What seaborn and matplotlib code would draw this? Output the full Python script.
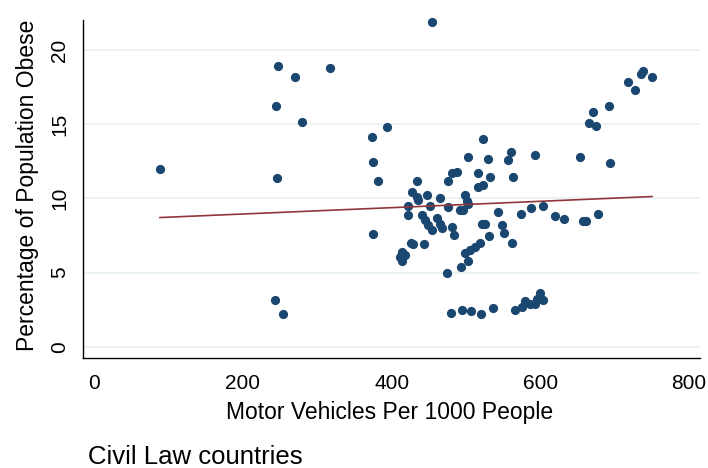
import matplotlib
matplotlib.use("Agg")
import matplotlib.pyplot as plt
import seaborn as sns
import numpy as np
import pandas as pd

# Motor vehicles per 1000 people (x) and % of population obese (y)
vehicles = [
    88, 243, 254, 244, 246, 247.5, 270, 280, 317,
    373, 374.5, 374.5, 382, 394,
    411, 413.5, 413.5, 418, 421.5, 422, 426, 427, 429, 434, 434, 436,
    440.5, 443, 445, 447, 449, 451.5, 454, 454, 460.5, 465, 465, 467.5,
    474, 476, 476, 479.5, 481, 481, 484.5, 487.5, 492, 493.5, 494, 496,
    498.5, 499, 501, 502.5, 503, 503, 505.5, 506.5, 512, 516, 516.5, 519,
    520, 521, 523, 523.5, 525, 529, 531.5, 532, 536.5, 543.5, 548, 551,
    557, 560.5, 561.5, 563.5, 566, 573.5, 575, 579, 586, 587, 593, 593,
    596, 599.5, 603, 604, 620, 632,
    654, 657, 661, 665, 670.5, 675, 677, 692.5, 693.5, 718, 727.5, 735.5,
    738.5, 750.5,
]
obese = [
    12.0, 3.15, 2.2, 16.2, 11.4, 18.9, 18.15, 15.15, 18.8,
    14.15, 12.45, 7.6, 11.2, 14.8,
    6.05, 6.4, 5.8, 6.2, 9.5, 8.85, 7.0, 10.45, 6.9, 11.2, 10.1, 9.9,
    8.85, 6.9, 8.55, 10.25, 8.2, 9.5, 7.85, 21.9, 8.65, 10.05, 8.3, 8.0,
    5.0, 11.2, 9.4, 2.25, 11.7, 8.1, 7.5, 11.8, 9.2, 5.4, 2.5, 9.2,
    10.2, 6.35, 9.8, 12.8, 9.65, 5.75, 6.5, 2.4, 6.75, 10.75, 11.7, 7.0,
    2.2, 8.25, 10.9, 14.0, 8.25, 12.65, 7.45, 11.45, 2.6, 9.05, 8.2, 7.65,
    12.6, 13.1, 7.0, 11.45, 2.45, 8.95, 2.7, 3.05, 2.9, 9.35, 2.9, 12.9,
    3.2, 3.6, 9.5, 3.15, 8.8, 8.6,
    12.8, 8.5, 8.5, 15.1, 15.8, 14.9, 8.95, 16.25, 12.35, 17.85, 17.3, 18.35,
    18.55, 18.15,
]

x_ticks = [0, 200, 400, 600, 800]
y_ticks = [0, 5, 10, 15, 20]
x_label = "Motor Vehicles Per 1000 People"
y_label = "Percentage of Population Obese"
title = "Civil Law countries"

df = pd.DataFrame({"vehicles": vehicles, "obese": obese})

sns.set_style("white")
plt.rcParams["font.family"] = ["Liberation Sans", "DejaVu Sans"]
plt.rcParams["text.color"] = "black"
plt.rcParams["axes.labelcolor"] = "black"

fig = plt.figure(figsize=(7.08, 4.68), dpi=100)
ax = fig.add_axes([83.3 / 708, 1 - 358.3 / 468, (700 - 83.3) / 708, (358.3 - 20) / 468])

sns.regplot(
    data=df, x="vehicles", y="obese", ax=ax, ci=None, truncate=True,
    scatter_kws=dict(s=44, color="#1a476f", linewidths=0, alpha=1, clip_on=False, zorder=3),
    line_kws=dict(color="#90353b", lw=1.2, zorder=4),
)

ax.set_xlim(-14.8, 814.8)
ax.set_ylim(-0.78, 22.02)
ax.set_xticks(x_ticks)
ax.set_yticks(y_ticks)
ax.set_xticklabels([str(v) for v in x_ticks], fontsize=15)
ax.set_yticklabels([str(v) for v in y_ticks], fontsize=15, rotation=90, va="center")

ax.yaxis.grid(True, color="#eaf2f3", lw=1.3)
ax.xaxis.grid(False)
ax.set_axisbelow(True)

for s in ["top", "right"]:
    ax.spines[s].set_visible(False)
for s in ["left", "bottom"]:
    ax.spines[s].set_color("black")
    ax.spines[s].set_linewidth(1.0)

ax.tick_params(axis="both", direction="out", length=5, width=1.0, color="black", labelcolor="black")
ax.tick_params(axis="x", pad=6)
ax.tick_params(axis="y", pad=5)

ax.set_xlabel(x_label, fontsize=16.5, color="black")
ax.set_ylabel(y_label, fontsize=16.5, color="black")
ax.xaxis.set_label_coords((390 - 83.3) / 616.7, (358.3 - 413) / 338.3)
ax.xaxis.label.set_va("center")
ax.yaxis.set_label_coords((28 - 83.3) / 616.7, (358.3 - 185) / 338.3)
ax.yaxis.label.set_va("center")

fig.text(88 / 708, 1 - 457 / 468, title, fontsize=18.5, ha="left", va="center", color="black")

fig.savefig("out.png", dpi=100)
